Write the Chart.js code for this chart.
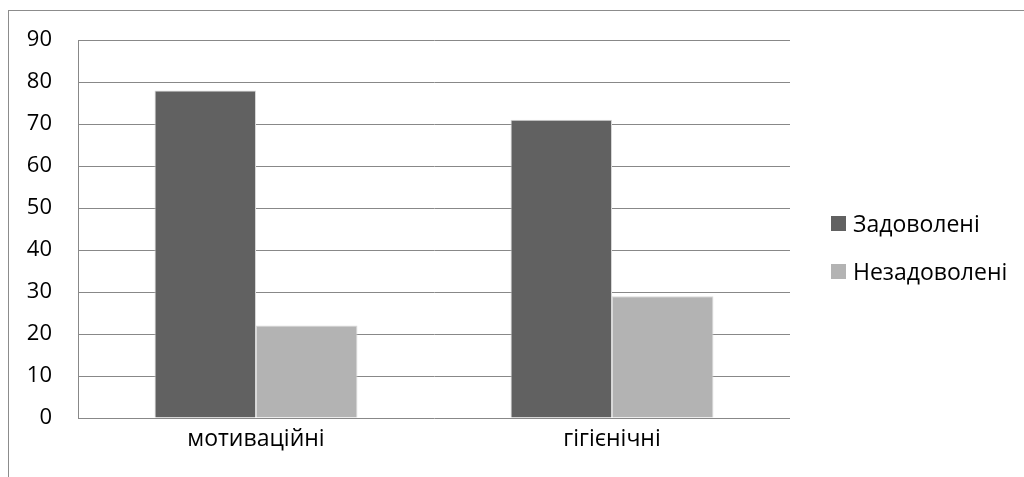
<!DOCTYPE html>
<html>
<head>
<meta charset="utf-8">
<script src="https://cdn.jsdelivr.net/npm/chart.js@4/dist/chart.umd.min.js"></script>
<style>
    html, body { margin: 0; padding: 0; background: #fff; overflow: hidden; }
    #wrap { position: relative; width: 1024px; height: 477px; }
    #frame {
        position: absolute; left: 8px; top: 10px; right: -10px; bottom: -10px;
        border-left: 1px solid #8c8c8c; border-top: 1px solid #8c8c8c;
    }
    #chart { position: absolute; left: 0; top: 0; }
    #legend {
        position: absolute; left: 831px; top: 209px;
        font-family: "Open Sans", "Liberation Sans", sans-serif; font-size: 23px; color: #000;
    }
    .item { display: flex; align-items: center; height: 28px; margin-bottom: 20px; }
    .box { width: 15px; height: 15px; margin-right: 7px; }
</style>
</head>
<body>
<div id="wrap">
    <div id="frame"></div>
    <canvas id="chart" width="1024" height="477"></canvas>
    <div id="legend"></div>
</div>
<script>
const categories = ['мотиваційні', 'гігієнічні'];
const seriesNames = ['Задоволені', 'Незадоволені'];
const satisfied = [78, 71];
const unsatisfied = [22, 29];
const colors = ['#616161', '#b3b3b3'];

const fontX = { family: '"Open Sans", "Liberation Sans", sans-serif', size: 23 };
const fontY = { family: '"Open Sans", "Liberation Sans", sans-serif', size: 22 };

const ctx = document.getElementById('chart').getContext('2d');
const chart = new Chart(ctx, {
    type: 'bar',
    data: {
        labels: categories,
        datasets: [{
            label: seriesNames[0],
            data: satisfied,
            backgroundColor: colors[0],
            borderColor: '#d6d6d6',
            borderWidth: 1,
            categoryPercentage: 0.57,
            barPercentage: 1.0
        }, {
            label: seriesNames[1],
            data: unsatisfied,
            backgroundColor: colors[1],
            borderColor: '#dadada',
            borderWidth: 1,
            categoryPercentage: 0.57,
            barPercentage: 1.0
        }]
    },
    options: {
        responsive: false,
        animation: false,
        layout: { padding: { left: 0, top: 40, right: 234, bottom: 0 } },
        plugins: { legend: { display: false }, tooltip: { enabled: false } },
        scales: {
            x: {
                grid: { display: false, drawTicks: false },
                border: { display: false },
                ticks: { color: '#000', font: fontX, padding: 8 },
                afterFit: scale => { scale.height = 59; }
            },
            y: {
                min: 0,
                max: 90,
                ticks: { stepSize: 10, color: '#000', font: fontY, padding: 26 },
                grid: { color: '#888', lineWidth: 1, drawTicks: false },
                border: { display: true, color: '#888', width: 1 },
                afterFit: scale => { scale.width = 78; }
            }
        }
    }
});

// legend as html
const legend = document.getElementById('legend');
seriesNames.forEach((name, i) => {
    const item = document.createElement('div');
    item.className = 'item';
    const box = document.createElement('span');
    box.className = 'box';
    box.style.background = colors[i];
    const txt = document.createElement('span');
    txt.textContent = name;
    item.appendChild(box);
    item.appendChild(txt);
    legend.appendChild(item);
});
</script>
</body>
</html>
